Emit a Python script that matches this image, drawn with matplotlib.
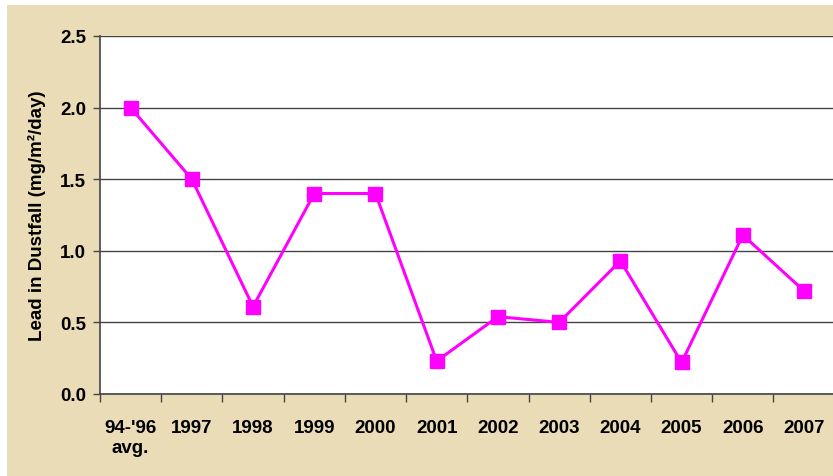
import numpy as np
import matplotlib.pyplot as plt
from matplotlib.patches import Rectangle

# lead in dustfall by year
years = ["94-'96\navg.", "1997", "1998", "1999", "2000", "2001",
         "2002", "2003", "2004", "2005", "2006", "2007"]
lead = [2.0, 1.5, 0.61, 1.4, 1.4, 0.23, 0.54, 0.5, 0.93, 0.22, 1.11, 0.72]
yticks = [0.0, 0.5, 1.0, 1.5, 2.0, 2.5]

plt.rcParams['font.family'] = ['Liberation Sans', 'DejaVu Sans']
plt.rcParams['font.weight'] = 'bold'

W, H = 833, 477
fig = plt.figure(figsize=(W / 100, H / 100), dpi=100)
fig.patch.set_facecolor('white')

# parchment-like backdrop
fig.patches.append(Rectangle((7 / W, 0), 1 - 7 / W, (H - 6) / H,
                             transform=fig.transFigure, facecolor='#EBDCB8',
                             edgecolor='none', zorder=-10))

ax = fig.add_axes([100 / W, (H - 395) / H, (833 - 100) / W + 0.002, (395 - 37) / H])
ax.set_facecolor('white')

x = np.arange(len(years))
ax.plot(x, lead, color='#FF00FF', lw=2.2, marker='s', markersize=9.5,
        markerfacecolor='#FF00FF', markeredgecolor='#FF00FF', zorder=3)

ax.set_xlim(-0.5, len(years) - 0.5)
ax.set_ylim(0, 2.5)
ax.set_yticks(yticks)
ax.set_yticklabels([f"{v:.1f}" for v in yticks], fontsize=13.5, fontweight='bold')
ax.yaxis.grid(True, color='#444444', lw=1)
ax.set_axisbelow(True)

ax.set_xticks(x)
ax.set_xticklabels(years, fontsize=13.5, fontweight='bold', linespacing=1.2)
ax.set_xticks(np.arange(-0.5, len(years)), minor=True)
ax.tick_params(axis='x', which='major', length=0, pad=18)
ax.tick_params(axis='x', which='minor', length=6, width=1, color='#444444', direction='out')
ax.tick_params(axis='y', length=5, width=1, color='#444444', pad=5)

for s in ['top', 'right']:
    ax.spines[s].set_visible(False)
for s in ['left', 'bottom']:
    ax.spines[s].set_color('#444444')
    ax.spines[s].set_linewidth(1.2)

ax.set_ylabel("Lead in Dustfall (mg/m²/day)", fontsize=13.5, fontweight='bold', labelpad=10)

fig.savefig('out.png', dpi=100)
